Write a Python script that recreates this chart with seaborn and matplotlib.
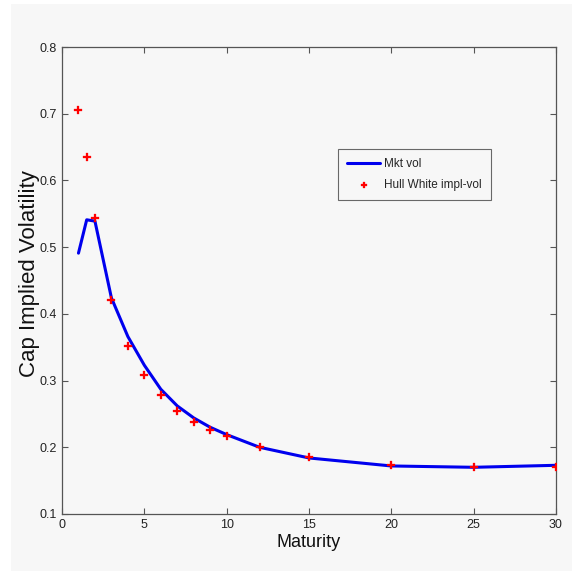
import matplotlib
matplotlib.use("Agg")
import matplotlib.pyplot as plt
import matplotlib.patches as mpatches
import seaborn as sns
import pandas as pd

# Data
mkt_maturity = [1, 1.5, 2, 3, 4, 5, 6, 7, 8, 9, 10, 12, 15, 20, 25, 30]
mkt_vol = [0.491, 0.541, 0.539, 0.424, 0.366, 0.323, 0.287, 0.262, 0.244, 0.230, 0.219, 0.200, 0.184, 0.172, 0.170, 0.173]
hw_maturity = [1, 1.5, 2, 3, 4, 5, 6, 7, 8, 9, 10, 12, 15, 20, 25, 30]
hw_vol = [0.706, 0.635, 0.544, 0.421, 0.352, 0.308, 0.278, 0.254, 0.238, 0.226, 0.217, 0.200, 0.185, 0.173, 0.170, 0.170]
x_ticks = [0, 5, 10, 15, 20, 25, 30]
y_ticks = [0.1, 0.2, 0.3, 0.4, 0.5, 0.6, 0.7, 0.8]

sns.set_style("ticks")
plt.rcParams["font.family"] = ["Liberation Sans", "DejaVu Sans"]

bg = "#f7f7f7"
fig = plt.figure(figsize=(5.72, 5.71), dpi=100, facecolor="white")
fig.patches.append(mpatches.Rectangle((11 / 572, 0), 1 - 11 / 572, 1 - 4 / 571,
                                      transform=fig.transFigure, facecolor=bg,
                                      edgecolor="none", zorder=-10))
ax = fig.add_axes([62 / 572, 1 - 514 / 571, (556 - 62) / 572, (514 - 47) / 571])
ax.set_facecolor(bg)

mkt_df = pd.DataFrame({"Maturity": mkt_maturity, "Vol": mkt_vol})
hw_df = pd.DataFrame({"Maturity": hw_maturity, "Vol": hw_vol})

sns.lineplot(data=mkt_df, x="Maturity", y="Vol", ax=ax, color="#0000ee", lw=2.2,
             label="Mkt vol", zorder=2)
sns.scatterplot(data=hw_df, x="Maturity", y="Vol", ax=ax, color="red", marker="P",
                s=38, edgecolor="red", linewidth=0.2, label="Hull White impl-vol", zorder=3)

ax.set_xlim(0, 30)
ax.set_ylim(0.1, 0.8)
ax.set_xticks(x_ticks)
ax.set_yticks(y_ticks)
ax.set_xticklabels([str(t) for t in x_ticks])
ax.set_yticklabels([f"{t:g}" for t in y_ticks])
ax.tick_params(direction="in", length=4, width=0.8, colors="#555555", labelcolor="#222222",
               labelsize=9, top=True, right=True)
for s in ax.spines.values():
    s.set_color("#555555")
    s.set_linewidth(0.9)

ax.set_xlabel("Maturity", fontsize=13, color="#111111", labelpad=2)
ax.set_ylabel("Cap Implied Volatility", fontsize=16, color="#111111")
ax.yaxis.set_label_coords(-0.045, 0.514)

leg = ax.legend(loc="upper left", bbox_to_anchor=((332 - 62) / 494, 1 - (143 - 47) / 467),
                fontsize=8.5, frameon=True, fancybox=False, edgecolor="#444444",
                facecolor=bg, handlelength=2.8, handletextpad=0.3, borderpad=0.8,
                labelspacing=0.7, markerscale=0.8)
leg.get_frame().set_linewidth(0.8)

fig.savefig("out.png", dpi=100, facecolor=fig.get_facecolor())
